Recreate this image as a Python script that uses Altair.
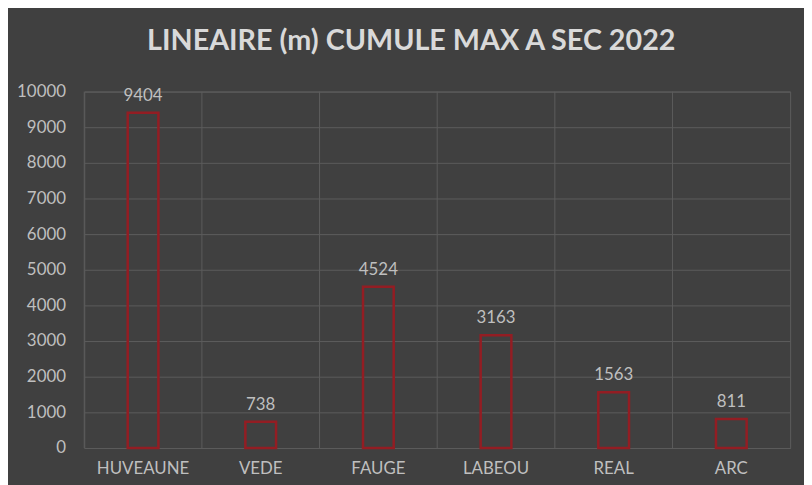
import altair as alt
import pandas as pd

categories = ["HUVEAUNE", "VEDE", "FAUGE", "LABEOU", "REAL", "ARC"]
values = [9404, 738, 4524, 3163, 1563, 811]
y_ticks = list(range(0, 10001, 1000))

df = pd.DataFrame({"cat": categories, "val": values})

BG = "#404040"
GRID = "#5c5c5c"
TXT = "#bfbfbf"
FONT = "Lato"
W, H = 713, 360
STEP = W / len(categories)

xscale = alt.Scale(domain=categories, paddingInner=0, paddingOuter=0)
yscale = alt.Scale(domain=[0, 10000])

xaxis = alt.Axis(
    title=None, labelAngle=0, ticks=False, domain=False, grid=False,
    labelPadding=13, labelFontSize=17, labelColor=TXT, labelFont=FONT,
)
yaxis = alt.Axis(
    title=None, values=y_ticks, format="d", ticks=False, domain=False, grid=True,
    gridColor=GRID, gridWidth=1, labelPadding=19, labelFontSize=17,
    labelColor=TXT, labelFont=FONT,
)

base = alt.Chart(df)

grid_v = base.mark_rule(color=GRID, strokeWidth=1, xOffset=-STEP / 2).encode(
    x=alt.X("cat:N", scale=xscale, sort=categories, axis=xaxis),
)

bars = base.mark_bar(
    width=31, fill=BG, fillOpacity=0, stroke="#931d23", strokeWidth=2.5
).encode(
    x=alt.X("cat:N", scale=xscale, sort=categories, axis=xaxis),
    y=alt.Y("val:Q", scale=yscale, axis=yaxis),
)

labels = base.mark_text(
    dy=-8, baseline="bottom", fontSize=17, color=TXT, font=FONT
).encode(
    x=alt.X("cat:N", scale=xscale, sort=categories, axis=xaxis),
    y=alt.Y("val:Q", scale=yscale, axis=yaxis),
    text=alt.Text("val:Q", format="d"),
)

chart = (
    alt.layer(grid_v, bars, labels)
    .properties(
        width=W,
        height=H,
        background=BG,
        padding={"left": 77, "top": 82, "right": 14, "bottom": 35},
        autosize=alt.AutoSizeParams(type="none"),
        title=alt.Title(
            "LINEAIRE (m) CUMULE MAX A SEC 2022",
            fontSize=29, font=FONT, fontWeight="bold", color="#d9d9d9",
            anchor="middle", frame="bounds", offset=27, dx=8,
        ),
    )
    .configure_view(stroke=GRID, strokeWidth=1)
)

chart.save("out.html", embed_options={"renderer": "svg", "actions": False})
